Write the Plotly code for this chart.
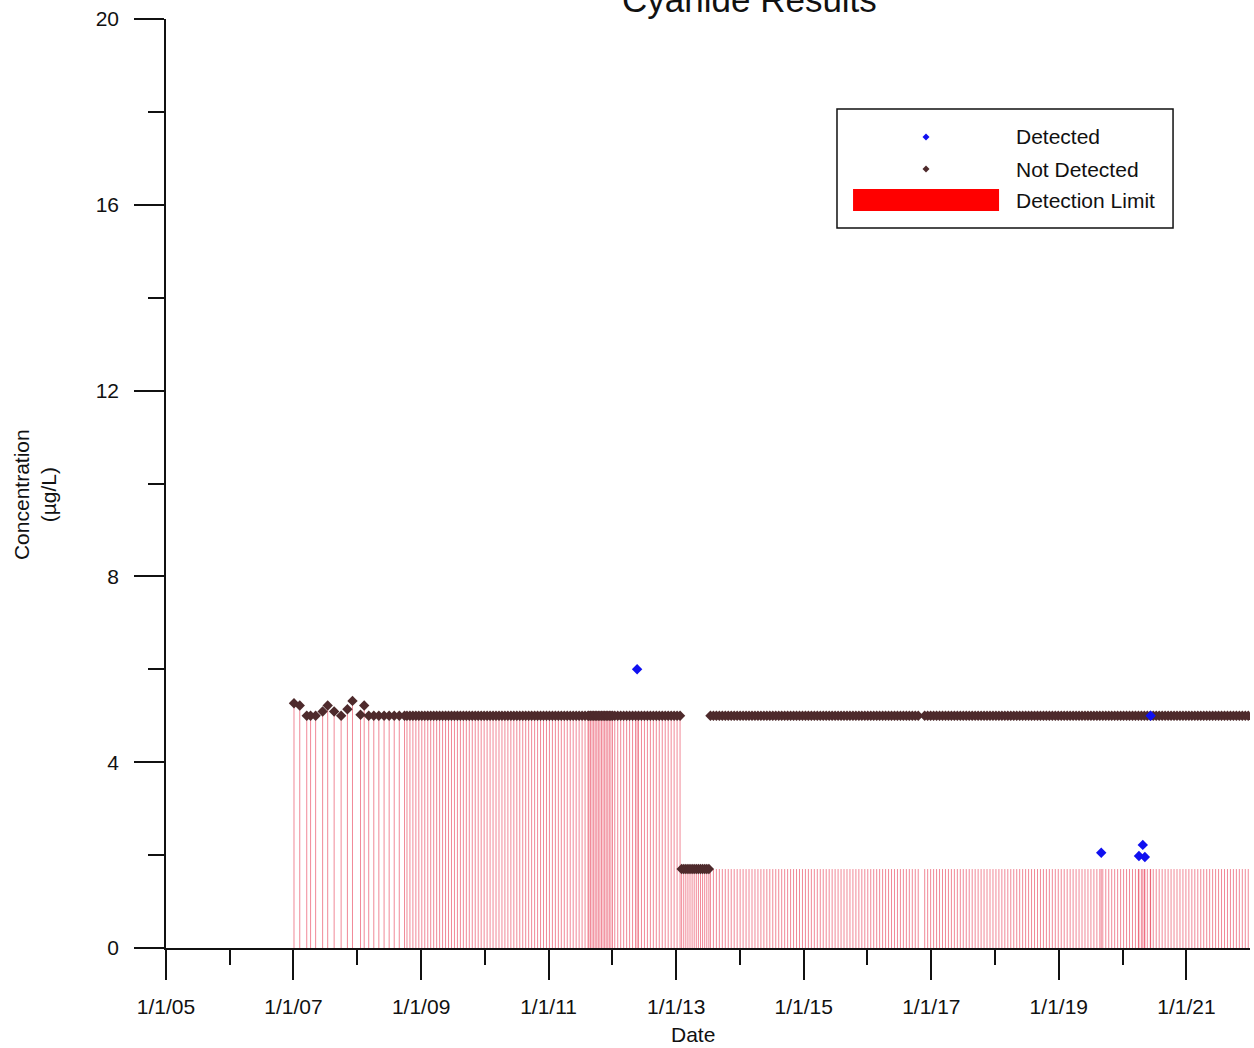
import pandas as pd
import plotly.graph_objects as go

# ---- Sample data -------------------------------------------------------
# Early monthly samples (2007-2008), not detected, reported at the limit
early_dates = ["2007-01-04", "2007-02-06", "2007-03-18", "2007-04-09", "2007-05-08",
               "2007-06-17", "2007-07-16", "2007-08-22", "2007-10-01", "2007-11-06",
               "2007-12-05", "2008-01-20", "2008-02-10", "2008-03-07", "2008-04-05",
               "2008-05-04", "2008-06-03", "2008-07-02", "2008-07-31", "2008-08-29",
               "2008-09-28"]
early_values = [5.27, 5.22, 5.0, 5.0, 5.0, 5.09, 5.22, 5.09, 5.0, 5.14,
                5.32, 5.02, 5.22, 5.0, 5.0, 5.0, 5.0, 5.0, 5.0, 5.0, 5.0]

# Routine sampling schedule: start, end, interval (days),
# reported non-detect value, detection limit
sched_start = ["2008-10-12", "2011-08-20", "2012-01-15", "2013-02-01", "2013-07-16", "2016-11-24"]
sched_end = ["2011-08-15", "2012-01-10", "2013-02-08", "2013-07-12", "2016-10-20", "2021-12-31"]
sched_step = [17, 9, 17, 12, 17, 17]
sched_nd = [5.0, 5.0, 5.0, 1.7, 5.0, 5.0]
sched_dl = [5.0, 5.0, 5.0, 1.7, 1.7, 1.7]

# Detected results
det_dates = ["2012-05-22", "2019-09-01", "2020-04-04", "2020-04-26", "2020-05-08", "2020-06-10"]
det_values = [6.0, 2.05, 1.98, 2.22, 1.96, 5.0]
det_dl = [5.0, 1.7, 1.7, 1.7, 1.7, 1.7]

# ---- Assemble series ---------------------------------------------------
nd_x = list(pd.to_datetime(early_dates))
nd_y = list(early_values)
dl_x = list(pd.to_datetime(early_dates))
dl_y = list(early_values)
for s, e, st, nd, dl in zip(sched_start, sched_end, sched_step, sched_nd, sched_dl):
    days = pd.date_range(s, e, freq=f"{st}D")
    nd_x += list(days)
    nd_y += [nd] * len(days)
    dl_x += list(days)
    dl_y += [dl] * len(days)
dl_x += list(pd.to_datetime(det_dates))
dl_y += det_dl

# vertical detection-limit lines from zero to the limit
line_x, line_y = [], []
for d, v in zip(dl_x, dl_y):
    line_x += [d, d, None]
    line_y += [0, v, None]

FONT = "Liberation Sans, Arial, sans-serif"

fig = go.Figure()
fig.add_trace(go.Scatter(x=line_x, y=line_y, mode="lines",
                         line=dict(color="rgba(228,20,50,0.5)", width=1),
                         name="Detection Limit", showlegend=False, hoverinfo="skip"))
fig.add_trace(go.Scatter(x=nd_x, y=nd_y, mode="markers",
                         marker=dict(symbol="diamond", size=8, color="#4e2a2c"),
                         name="Not Detected", showlegend=False))
fig.add_trace(go.Scatter(x=pd.to_datetime(det_dates), y=det_values, mode="markers",
                         marker=dict(symbol="diamond", size=8, color="#1010f0"),
                         name="Detected", showlegend=False))

axis_common = dict(showline=True, linecolor="#111", linewidth=1.5, ticks="outside",
                   tickcolor="#111", tickwidth=1.5, showgrid=False, zeroline=False,
                   tickfont=dict(family=FONT, size=21, color="#111"))

fig.update_xaxes(type="date", range=["2005-01-01", "2021-12-31"], tick0="2005-01-01",
                 dtick="M24", tickformat="%-m/%-d/%y", ticklen=30, ticklabelstandoff=9,
                 minor=dict(dtick="M12", ticklen=15, tickwidth=1.5, tickcolor="#111",
                            ticks="outside", showgrid=False),
                 **axis_common)
fig.update_yaxes(range=[0, 20], tick0=0, dtick=4, ticklen=30, ticklabelstandoff=11,
                 minor=dict(dtick=2, ticklen=16, tickwidth=1.5, tickcolor="#111",
                            ticks="outside", showgrid=False),
                 **axis_common)

# ---- Legend box --------------------------------------------------------
legend_labels = ["Detected", "Not Detected", "Detection Limit"]
legend_rows = [0.873, 0.8385, 0.805]
shapes = [
    dict(type="rect", xref="paper", yref="paper", x0=0.619, x1=0.929, y0=0.775, y1=0.903,
         line=dict(color="#111", width=1.5), fillcolor="white", layer="above"),
    dict(type="rect", xref="paper", yref="paper", x0=0.6338, x1=0.7685, y0=0.7933, y1=0.817,
         line=dict(width=0), fillcolor="#ff0000", layer="above"),
]
for yy, col, r in [(legend_rows[0], "#1010f0", 3.5), (legend_rows[1], "#4e2a2c", 3.5)]:
    shapes.append(dict(type="path", xref="paper", yref="paper", xsizemode="pixel",
                       ysizemode="pixel", xanchor=0.7011, yanchor=yy,
                       path=f"M0,{r} L{r},0 L0,-{r} L-{r},0 Z",
                       fillcolor=col, line=dict(width=0), layer="above"))

annotations = [
    dict(text="Cyanide Results", xref="paper", yref="paper", x=0.5387, y=1.0205,
         xanchor="center", yanchor="middle", showarrow=False,
         font=dict(family=FONT, size=35, color="#111")),
    dict(text="Date", xref="paper", yref="paper", x=0.4862, y=-0.0936,
         xanchor="center", yanchor="middle", showarrow=False,
         font=dict(family=FONT, size=21, color="#111")),
    dict(text="Concentration<br>(µg/L)", xref="paper", yref="paper", x=-0.1208, y=0.4876,
         xanchor="center", yanchor="middle", textangle=-90, showarrow=False,
         font=dict(family=FONT, size=21, color="#111")),
]
for lab, yy in zip(legend_labels, legend_rows):
    annotations.append(dict(text=lab, xref="paper", yref="paper", x=0.7823, y=yy,
                            xanchor="left", yanchor="middle", showarrow=False,
                            font=dict(family=FONT, size=21, color="#111")))

fig.update_layout(width=1254, height=1048, margin=dict(l=166, r=4, t=19, b=100),
                  paper_bgcolor="white", plot_bgcolor="white", showlegend=False,
                  shapes=shapes, annotations=annotations,
                  font=dict(family=FONT, color="#111"))

fig.write_html("out.html")
